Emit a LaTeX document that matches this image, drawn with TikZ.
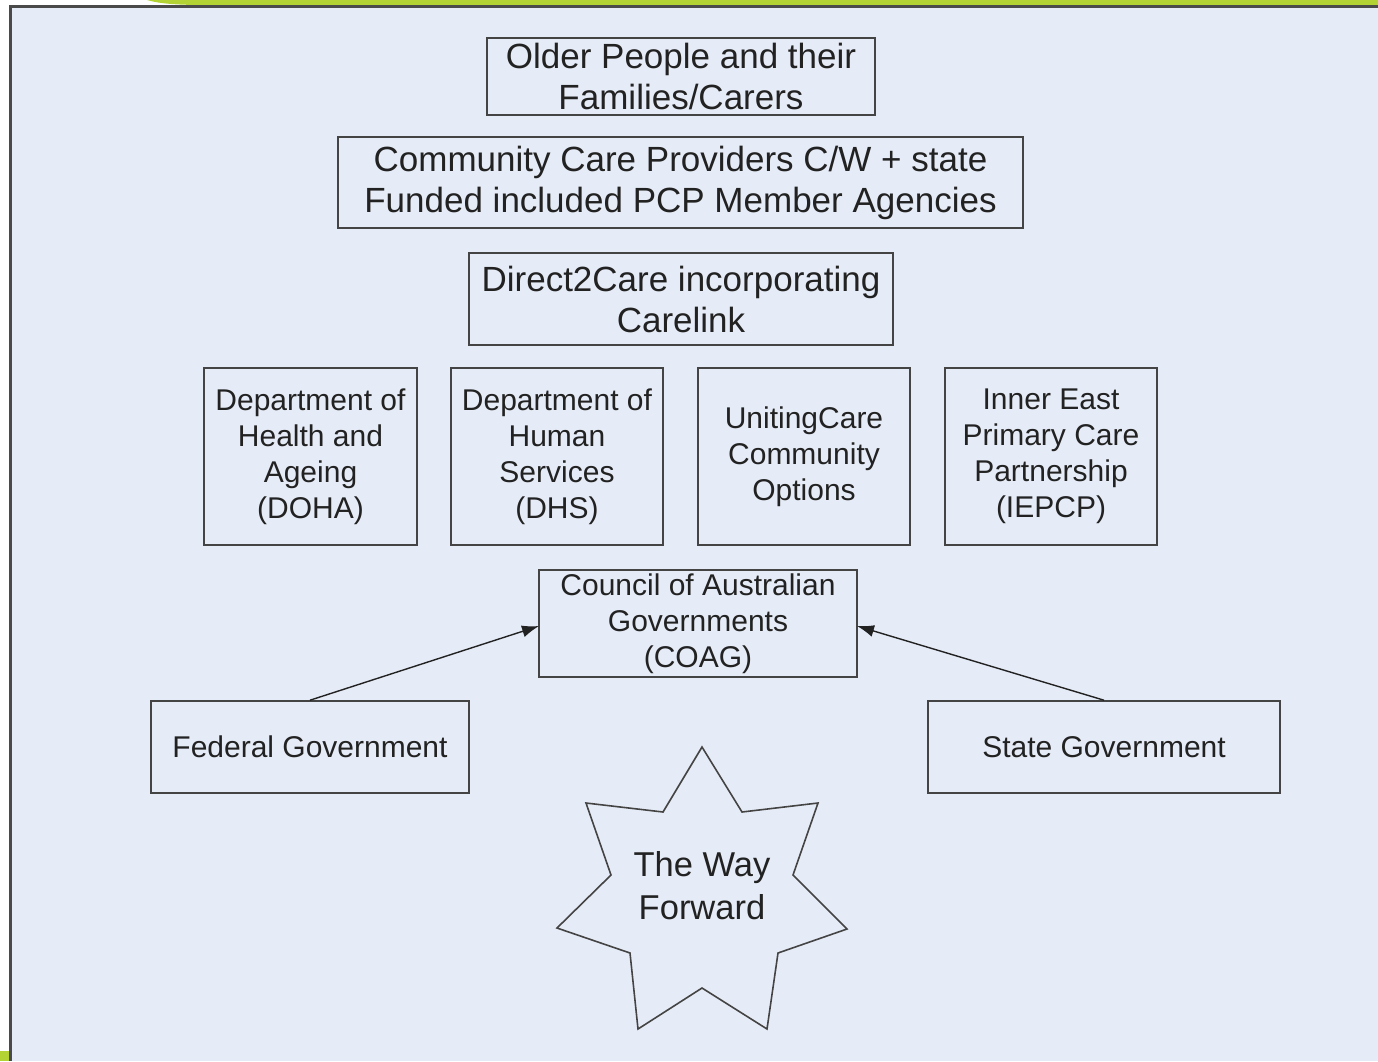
\documentclass[tikz,border=0pt]{standalone}
\usepackage{fontspec}
\setmainfont{Liberation Sans}
\usetikzlibrary{arrows.meta}
\definecolor{bgblue}{HTML}{E6ECF7}
\definecolor{frame}{HTML}{4A4A4A}
\definecolor{lime}{HTML}{B3D334}
\definecolor{ink}{HTML}{222222}
\definecolor{edge}{HTML}{444444}
\tikzset{
  box/.style={draw=edge, line width=1.6pt, inner sep=0pt, align=center, text=ink},
  bigtext/.style={font=\fontsize{35}{41}\selectfont},
  smalltext/.style={font=\fontsize{30}{36}\selectfont},
  link/.style={draw=ink, line width=1.4pt, -{Latex[length=17pt,width=12pt]}},
}
\begin{document}
\begin{tikzpicture}[x=1pt,y=-1pt]
\useasboundingbox (0,0) rectangle (1378,1061);
% page background
\fill[white] (0,0) rectangle (1378,1061);
\fill[bgblue] (10,6) rectangle (1378,1061);
\fill[lime] (147,0) .. controls (160,4) and (180,5) .. (205,5) -- (1378,5) -- (1378,0) -- cycle;
\fill[lime] (0,1051) rectangle (10,1061);
\fill[frame] (9,5) rectangle (1378,7.5);
\fill[frame] (9,5) rectangle (11.5,1061);
% boxes
\node[box, bigtext, minimum width=388pt, minimum height=77pt] (older) at (681,76.5) {Older People and their\\Families/Carers};
\node[box, bigtext, minimum width=685pt, minimum height=91pt] (ccp) at (680.5,182.5) {Community Care Providers C/W + state\\Funded included PCP Member Agencies};
\node[box, bigtext, minimum width=424pt, minimum height=92pt] (d2c) at (681,299) {Direct2Care incorporating\\Carelink};
\node[box, smalltext, minimum width=213pt, minimum height=177pt] (doha) at (310.5,456.5) {Department of\\Health and\\Ageing\\(DOHA)};
\node[box, smalltext, minimum width=212pt, minimum height=177pt] (dhs) at (557,456.5) {Department of\\Human\\Services\\(DHS)};
\node[box, smalltext, minimum width=212pt, minimum height=177pt] (uco) at (804,456.5) {UnitingCare\\Community\\Options};
\node[box, smalltext, minimum width=212pt, minimum height=177pt] (iepcp) at (1051,456.5) {Inner East\\Primary Care\\Partnership\\(IEPCP)};
\node[box, smalltext, minimum width=318pt, minimum height=107pt] (coag) at (698,623.5) {Council of Australian\\Governments\\(COAG)};
\node[box, smalltext, minimum width=318pt, minimum height=92pt] (fed) at (310,747) {Federal Government};
\node[box, smalltext, minimum width=352pt, minimum height=92pt] (state) at (1104,747) {State Government};
% connectors
\coordinate (coagL) at (539,626);
\coordinate (coagR) at (857,626);
\draw[link] (fed.north) -- (coagL);
\draw[link] (state.north) -- (coagR);
% star
\draw[edge, line width=1.6pt, line join=miter]
  (702,747) -- (742,812) -- (818,803) -- (793,875) -- (847,929) -- (778,953)
  -- (767,1029) -- (702,988) -- (638,1029) -- (630,953) -- (557,928)
  -- (611,875) -- (586,803) -- (663,812) -- cycle;
\node[text=ink, align=center, inner sep=0pt, font=\fontsize{34.5}{43}\selectfont] (way) at (702,885.5) {The Way\\Forward};
\end{tikzpicture}
\end{document}
